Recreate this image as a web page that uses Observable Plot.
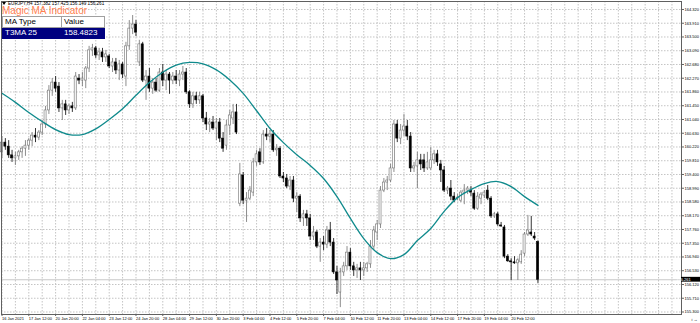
<!DOCTYPE html>
<html><head><meta charset="utf-8">
<script src="https://cdn.jsdelivr.net/npm/d3@7"></script>
<script src="https://cdn.jsdelivr.net/npm/@observablehq/plot@0.6"></script>
<style>
body{margin:0;background:#fff;}
#wrap{position:relative;width:700px;height:323px;overflow:hidden;font-family:"Liberation Sans",Arial,sans-serif;}
#chart svg{display:block}
.hdr{position:absolute;left:8px;top:1px;font-size:4.6px;line-height:5px;color:#000;white-space:nowrap;}
.tri{position:absolute;left:2px;top:2px;width:0;height:0;border-left:2px solid transparent;border-right:2px solid transparent;border-top:3px solid #000;}
.ttl{position:absolute;left:2px;top:6px;font-size:10px;line-height:10px;color:#ff7f50;white-space:nowrap;}
table.ma{position:absolute;left:2px;top:16px;border-collapse:collapse;font-size:8px;width:103px;}
table.ma td{padding:0 2px;height:10px;line-height:10px;white-space:nowrap;}
table.ma tr.h td{background:#fff;color:#000;border:1px solid #a0a0a0;}
table.ma tr.v td{background:#000080;color:#fff;border:1px solid #000080;}
</style></head>
<body>
<div id="wrap">
<div id="chart"></div>
<div class="tri"></div>
<div class="hdr" id="hdr"></div>
<div class="ttl" id="ttl"></div>
<table class="ma"><tr class="h"><td style="width:54px" id="c1"></td><td id="c2"></td></tr>
<tr class="v"><td id="c3"></td><td id="c4"></td></tr></table>
</div>
<script>
const symbolText = "EURJPY,H4  157.382 157.425 156.149 156.261";
const indicatorTitle = "Magic MA Indicator";
const tableHead = ["MA Type", "Value"];
const tableRow = ["T3MA 25", "158.4823"];

const open = [
160.06,160.35,160.23,159.97,159.88,159.94,160.06,160.17,160.26,160.41,
160.56,160.50,160.65,160.89,161.31,161.90,162.14,162.02,161.37,161.49,
161.31,161.43,161.37,162.26,162.20,162.20,162.56,163.10,163.16,162.95,
163.04,162.89,162.92,162.62,162.74,162.50,162.68,162.32,163.22,163.75,
163.87,162.74,163.28,162.20,162.32,161.96,162.14,161.90,162.44,162.20,
162.38,162.20,162.32,162.20,162.38,162.44,161.85,161.49,161.73,161.61,
161.73,161.07,160.89,160.95,160.77,160.95,160.47,160.26,160.86,161.07,
161.25,158.53,159.37,158.62,158.68,158.86,159.76,160.06,159.76,160.59,
160.53,160.59,160.12,160.17,159.34,159.28,159.04,159.22,158.68,158.74,
158.09,158.21,158.09,157.55,157.67,157.25,157.37,157.31,157.73,157.37,
156.48,155.88,156.48,156.66,157.07,156.66,156.54,156.60,156.54,156.60,
156.72,157.25,157.67,157.91,158.92,159.16,159.22,159.58,160.89,160.47,
160.71,160.83,160.53,159.58,159.64,159.82,159.82,159.58,159.58,159.82,
160.00,159.70,159.52,158.92,158.98,158.74,158.68,158.62,158.86,158.92,
158.92,158.83,158.38,158.68,158.77,158.92,158.68,158.15,158.21,157.88,
157.82,156.95,156.81,156.78,156.75,156.78,157.04,157.61,157.67,157.55,
157.382];
const high = [
160.53,160.47,160.41,160.12,160.06,160.12,160.23,160.41,160.47,160.65,
160.77,160.71,161.01,161.43,162.05,162.26,162.32,162.14,161.61,161.61,
161.49,161.55,162.44,162.38,162.44,162.62,163.22,163.28,163.22,163.16,
163.16,163.10,162.98,162.86,162.86,162.80,162.74,163.34,163.99,164.14,
163.99,163.40,163.34,162.50,162.56,162.26,162.26,162.56,162.68,162.50,
162.44,162.44,162.50,162.50,162.62,162.56,161.90,161.85,161.85,161.85,
161.79,161.25,161.07,161.13,161.07,161.07,160.65,161.01,161.31,161.49,
161.49,159.73,159.46,158.86,159.04,159.88,160.12,160.17,160.71,160.77,
160.71,160.71,160.29,160.23,159.46,159.40,159.34,159.34,158.86,158.80,
158.33,158.33,158.21,157.85,157.73,157.49,157.55,157.85,157.97,157.49,
156.66,156.60,156.78,157.25,157.19,156.78,156.72,156.78,156.78,156.78,
157.43,157.85,158.03,159.04,159.28,159.34,159.70,161.01,161.01,160.89,
161.19,161.01,160.65,159.76,160.06,160.00,160.00,160.06,160.20,160.12,
160.12,159.82,159.64,159.04,159.22,158.86,158.80,158.92,159.10,159.04,
159.04,158.92,158.86,158.86,158.92,159.07,158.74,158.27,158.27,157.97,
157.88,157.01,156.89,156.95,156.89,157.13,157.67,158.18,158.15,157.67,
157.425];
const low = [
159.88,160.12,159.88,159.76,159.67,159.82,159.88,159.94,160.12,160.23,
160.35,160.41,160.56,160.77,161.19,161.73,161.85,161.25,161.01,161.16,
161.19,161.25,161.31,162.08,162.02,161.96,162.44,162.92,162.86,162.80,
162.74,162.74,162.56,162.44,162.38,162.20,162.26,162.02,163.10,163.57,
163.51,162.62,162.14,161.61,161.85,161.79,161.85,161.85,162.02,161.90,
161.79,162.08,162.08,162.02,162.20,161.79,161.37,161.37,161.49,161.49,
160.95,160.71,160.65,160.71,160.41,160.35,160.06,160.12,160.56,160.89,
160.59,158.44,158.50,157.97,158.62,158.74,159.64,159.67,159.70,160.41,
160.35,160.06,159.94,159.28,159.16,158.98,158.92,158.56,158.27,157.97,
157.85,157.85,157.43,157.43,157.19,156.78,157.13,157.19,157.25,156.42,
155.82,155.43,156.36,156.54,156.54,156.36,156.30,156.24,156.36,156.48,
156.60,157.13,157.43,157.79,158.86,158.92,159.16,159.46,160.35,160.29,
160.53,160.41,159.46,159.46,158.98,159.52,159.46,159.52,159.52,159.70,
159.64,159.16,158.86,158.80,158.62,158.56,158.62,158.56,158.50,158.80,
158.74,158.33,158.33,158.50,158.68,158.62,158.09,158.09,157.85,157.82,
156.89,156.78,156.24,156.72,156.24,156.72,156.95,157.55,157.55,157.43,
156.149];
const close = [
160.35,160.23,159.97,159.88,159.94,160.06,160.17,160.26,160.41,160.56,
160.50,160.65,160.89,161.31,161.90,162.14,161.96,161.37,161.49,161.31,
161.43,161.37,162.32,162.20,162.26,162.56,163.10,163.16,162.95,163.04,
162.89,162.98,162.62,162.74,162.50,162.68,162.38,163.22,163.75,163.87,
163.63,163.28,162.20,162.32,161.96,162.14,161.90,162.44,162.20,162.38,
162.20,162.32,162.20,162.38,162.44,161.85,161.49,161.73,161.61,161.73,
161.07,160.89,160.95,160.77,160.95,160.47,160.17,160.86,161.16,161.25,
160.65,159.40,158.62,158.68,158.92,159.76,160.00,159.76,160.59,160.53,
160.59,160.12,160.17,159.34,159.28,159.04,159.22,158.68,158.74,158.09,
158.21,158.09,157.55,157.67,157.25,157.37,157.31,157.73,157.37,156.48,
156.24,156.48,156.66,157.07,156.66,156.54,156.60,156.54,156.60,156.72,
157.25,157.73,157.91,158.92,159.16,159.22,159.58,160.89,160.47,160.71,
160.83,160.53,159.58,159.64,159.82,159.70,159.58,159.76,159.82,160.00,
159.76,159.52,158.92,158.98,158.74,158.62,158.71,158.86,158.92,158.98,
158.86,158.38,158.74,158.80,158.86,158.68,158.15,158.21,157.91,157.85,
156.95,156.81,156.78,156.75,156.84,157.01,157.61,157.73,157.61,157.49,
156.261];

// T3MA 25 values read every 4 bars
const maBar = [0,4,8,12,16,20,24,28,32,36,40,44,48,52,56,60,64,68,72,76,80,84,88,92,96,100,104,108,112,116,120,124,128,132,136,140,144,148,152,156,160];
const maValue = [161.82,161.55,161.25,160.98,160.74,160.59,160.59,160.76,161.04,161.36,161.76,162.14,162.45,162.66,162.74,162.70,162.52,162.22,161.82,161.30,160.77,160.35,159.99,159.67,159.28,158.74,158.09,157.49,157.07,156.89,157.01,157.43,157.79,158.30,158.71,158.95,159.13,159.19,159.04,158.74,158.48];

const xTickBars = [0,8,16,24,32,40,48,56,64,72,80,88,96,104,112,120,128,136,144,152];
const xTickLabels = ["16 Jan 2021","17 Jan 12:00","20 Jan 20:00","22 Jan 04:00","23 Jan 12:00","24 Jan 20:00","28 Jan 04:00","29 Jan 12:00","30 Jan 20:00","3 Feb 04:00","4 Feb 12:00","5 Feb 20:00","7 Feb 04:00","10 Feb 12:00","11 Feb 20:00","13 Feb 04:00","14 Feb 12:00","17 Feb 20:00","19 Feb 04:00","20 Feb 12:00"];
const yTickLabels = ["164.320","163.910","163.500","163.090","162.680","162.270","161.860","161.450","161.040","160.630","160.220","159.810","159.400","158.990","158.580","158.170","157.760","157.350","156.940","156.530","156.120","155.710","155.300"];
const gridBars = [0,4,8,12,16,20,24,28,32,36,40,44,48,52,56,60,64,68,72,76,80,84,88,92,96,100,104,108,112,116,120,124,128,132,136,140,144,148,152,156,160,164,168,172,176,180,184,188,192,196,200];
const lastClose = close[close.length - 1];

document.getElementById("hdr").textContent = symbolText;
document.getElementById("ttl").textContent = indicatorTitle;
document.getElementById("c1").textContent = tableHead[0];
document.getElementById("c2").textContent = tableHead[1];
document.getElementById("c3").textContent = tableRow[0];
document.getElementById("c4").textContent = tableRow[1];

const bars = close.map((c, i) => ({i, o: open[i], h: high[i], l: low[i], c, up: c >= open[i]}));
const ma = maBar.map((b, k) => ({i: b, v: maValue[k]}));
const yTicks = yTickLabels.map(Number);
const xLab = new Map(xTickBars.map((b, k) => [b, xTickLabels[k]]));
const yLab = new Map(yTicks.map((v, k) => [v, yTickLabels[k]]));

function priceTag(index, scales, values, dims) {
  const y = scales.y(lastClose);
  const x0 = dims.width - dims.marginRight;
  const g = d3.create("svg:g");
  g.append("rect").attr("x", x0).attr("y", y - 2.4).attr("width", dims.marginRight).attr("height", 4.8).attr("fill", "#000");
  g.append("text").attr("x", x0 + 2.5).attr("y", y).attr("dy", "0.35em").attr("fill", "#fff")
    .attr("font-size", 4).attr("font-family", "Liberation Sans").text(lastClose.toFixed(3));
  return g.node();
}

const chart = Plot.plot({
  width: 700, height: 323,
  marginLeft: 1, marginRight: 19, marginTop: 1, marginBottom: 9,
  x: {type: "linear", domain: [-0.15, 202.85]},
  y: {domain: [155.225, 164.558]},
  style: {background: "#fff", fontFamily: "Liberation Sans", overflow: "visible"},
  marks: [
    Plot.gridX(gridBars, {stroke: "#c4c4c4", strokeOpacity: 1, strokeDasharray: "1.5,1.5"}),
    Plot.gridY(yTicks, {stroke: "#c4c4c4", strokeOpacity: 1, strokeDasharray: "1.5,1.5"}),
    Plot.ruleY([lastClose], {stroke: "#c8c8c8", strokeWidth: 1}),
    Plot.ruleX(bars, {x: "i", y1: "l", y2: "h", stroke: d => d.up ? "#707070" : "#000000", strokeWidth: 0.8}),
    Plot.rect(bars, {x1: d => d.i - 0.3, x2: d => d.i + 0.3, y1: "o", y2: "c",
      fill: d => d.up ? "#ffffff" : "#000000", stroke: d => d.up ? "#707070" : "#000000", strokeWidth: 0.6}),
    Plot.line(ma, {x: "i", y: "v", curve: "catmull-rom", stroke: "#0f8a8c", strokeWidth: 1.3}),
    Plot.frame({stroke: "#606060"}),
    Plot.axisX(xTickBars, {anchor: "bottom", tickSize: 2, tickPadding: 1, textAnchor: "start", dx: 0,
      fontSize: 4, tickFormat: d => xLab.get(d), stroke: "#606060"}),
    Plot.axisY(yTicks, {anchor: "right", tickSize: 2, tickPadding: 1, fontSize: 4,
      tickFormat: d => yLab.get(d), stroke: "#606060"}),
    priceTag
  ]
});
document.getElementById("chart").appendChild(chart);
</script>
</body></html>
